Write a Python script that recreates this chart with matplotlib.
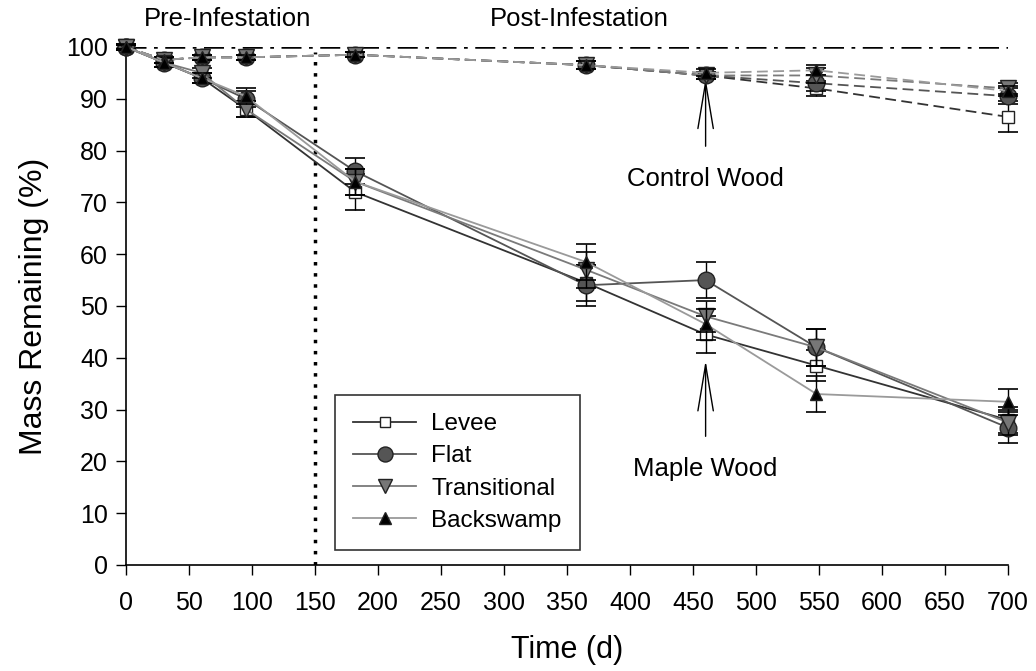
import numpy as np
import matplotlib.pyplot as plt
from matplotlib.lines import Line2D

plt.rcParams['font.family'] = ['Liberation Sans', 'DejaVu Sans']

# sampling days
days = [0, 30, 60, 95, 182, 365, 460, 548, 700]

# maple wood mass remaining (%) and standard errors
maple_levee = [100, 97, 94, 88, 72, 54.5, 44.5, 38.5, 28]
maple_flat = [100, 97, 94, 90, 76, 54, 55, 42, 26.5]
maple_trans = [100, 97, 95, 88, 74, 57, 48, 42, 27.5]
maple_back = [100, 97, 94, 90.5, 74, 58.5, 46.5, 33, 31.5]
maple_levee_se = [0.5, 0.8, 1, 1.5, 3.5, 3.5, 3.5, 3, 2.5]
maple_flat_se = [0.5, 0.8, 1, 1.5, 2.5, 4, 3.5, 3.5, 3]
maple_trans_se = [0.5, 0.8, 1, 1.5, 2.5, 3.5, 3, 3.5, 2.5]
maple_back_se = [0.5, 0.8, 1, 1.5, 2.5, 3.5, 3, 3.5, 2.5]

# control wood mass remaining (%) and standard errors
ctrl_levee = [100, 97.5, 98, 98, 98.5, 96.5, 94.5, 92, 86.5]
ctrl_flat = [100, 97.5, 98, 98, 98.5, 96.5, 94.5, 93, 90.5]
ctrl_trans = [100, 97.5, 98, 98, 98.5, 96.5, 94.5, 94.5, 92]
ctrl_back = [100, 97.5, 98, 98, 98.5, 96.5, 95, 95.5, 91.5]
ctrl_levee_se = [0.3, 0.5, 0.5, 0.5, 0.5, 0.7, 0.7, 1.5, 3]
ctrl_flat_se = [0.3, 0.5, 0.5, 0.5, 0.5, 0.7, 0.7, 1.5, 1.5]
ctrl_trans_se = [0.3, 0.5, 0.5, 0.5, 0.5, 0.7, 0.7, 1.5, 1]
ctrl_back_se = [0.3, 0.5, 0.5, 0.5, 0.5, 0.7, 0.7, 1, 1]

names = ['Levee', 'Flat', 'Transitional', 'Backswamp']
line_colors = ['#333333', '#555555', '#7a7a7a', '#9a9a9a']
markers = ['s', 'o', 'v', '^']
face_colors = ['white', '#555555', '#777777', 'black']
msizes = [8, 12, 11, 9]

maple = [maple_levee, maple_flat, maple_trans, maple_back]
maple_se = [maple_levee_se, maple_flat_se, maple_trans_se, maple_back_se]
ctrl = [ctrl_levee, ctrl_flat, ctrl_trans, ctrl_back]
ctrl_se = [ctrl_levee_se, ctrl_flat_se, ctrl_trans_se, ctrl_back_se]

fig = plt.figure(figsize=(10.36, 6.71), dpi=100)
ax = fig.add_axes([0.1216, 0.158, 0.8514, 0.772])

# reference lines
ax.axhline(100, color='black', ls=(0, (8, 3, 1.5, 3)), lw=1.8, zorder=1)
ax.axvline(150, ymax=0.99, color='black', ls=(0, (1, 2.2)), lw=2.5, zorder=1)

handles = []
for k in range(4):
    # control wood (dashed)
    ax.errorbar(days, ctrl[k], yerr=ctrl_se[k], color=line_colors[k], ls=(0, (6, 3)),
                lw=1.3, marker=markers[k], mfc=face_colors[k], mec='#222222',
                ms=msizes[k], ecolor='black', elinewidth=1, capsize=7,
                capthick=1.2, clip_on=False, zorder=3 + k)
    # maple wood (solid)
    ax.errorbar(days, maple[k], yerr=maple_se[k], color=line_colors[k], ls='-',
                lw=1.3, marker=markers[k], mfc=face_colors[k], mec='#222222',
                ms=msizes[k], ecolor='black', elinewidth=1, capsize=7,
                capthick=1.2, clip_on=False, zorder=3 + k)
    handles.append(Line2D([], [], color=line_colors[k], lw=1.3, marker=markers[k],
                          mfc=face_colors[k], mec='#222222', ms=msizes[k] * 0.9,
                          label=names[k]))

ax.set_xlim(0, 700)
ax.set_ylim(0, 100)
ax.set_xticks(np.arange(0, 701, 50))
ax.set_yticks(np.arange(0, 101, 10))
ax.spines['top'].set_visible(False)
ax.spines['right'].set_visible(False)
ax.spines['left'].set_linewidth(1.2)
ax.spines['bottom'].set_linewidth(1.2)
ax.tick_params(labelsize=18, length=7, width=1)
ax.tick_params(axis='x', pad=12)
ax.tick_params(axis='y', pad=6)
ax.set_xlabel('Time (d)', fontsize=22, labelpad=14)
ax.set_ylabel('Mass Remaining (%)', fontsize=23, labelpad=12)

# period labels
ax.text(81, 103.0, 'Pre-Infestation', ha='center', va='bottom', fontsize=18.5)
ax.text(360, 103.0, 'Post-Infestation', ha='center', va='bottom', fontsize=18.5)

# arrows to each wood type
arrow = dict(arrowstyle='->,head_length=1.8,head_width=0.3', color='black', lw=1,
             shrinkA=13, shrinkB=0)
ax.annotate('Control Wood', xy=(460, 94), xytext=(460, 74.5), ha='center', va='center',
            fontsize=18.5, arrowprops=arrow)
ax.annotate('Maple Wood', xy=(460, 39.5), xytext=(460, 18.5), ha='center', va='center',
            fontsize=18.5, arrowprops=arrow)

leg = ax.legend(handles=handles, loc='lower left', bbox_to_anchor=(0.237, 0.029),
                fontsize=17.5, frameon=True, fancybox=False, edgecolor='black',
                borderpad=0.75, handlelength=2.6, handletextpad=0.6,
                labelspacing=0.42, borderaxespad=0)
leg.get_frame().set_linewidth(1.2)

fig.savefig('out.png', dpi=100)
